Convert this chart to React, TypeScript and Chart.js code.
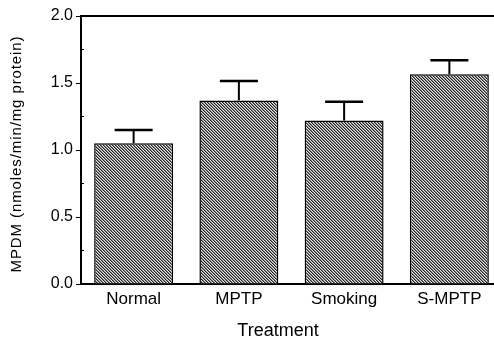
import React, { useEffect, useRef } from "react";
import { Chart, registerables } from "chart.js";

Chart.register(...registerables);

const categories = ["Normal", "MPTP", "Smoking", "S-MPTP"];
const means = [1.05, 1.37, 1.22, 1.565];
const errors = [0.1, 0.145, 0.14, 0.105];
const yTicks = [0, 0.5, 1.0, 1.5, 2.0];
const yTitle = "MPDM (nmoles/min/mg protein)";
const xTitle = "Treatment";

const FAMILY = "'Liberation Sans', Arial, sans-serif";

function makePattern(): CanvasPattern | string {
  const c = document.createElement("canvas");
  c.width = 3;
  c.height = 3;
  const ctx = c.getContext("2d");
  if (!ctx) return "#666";
  const D = "#202020", M = "#858585", L = "#e6e6e6";
  const rows = [
    [D, M, L],
    [L, D, M],
    [M, L, D],
  ];
  rows.forEach((r, y) => r.forEach((col, x) => { ctx.fillStyle = col; ctx.fillRect(x, y, 1, 1); }));
  const p = ctx.createPattern(c, "repeat");
  return p || "#666";
}

const decorPlugin = {
  id: "decor",
  afterDatasetsDraw(chart: any) {
    const { ctx, chartArea, scales } = chart;
    const meta = chart.getDatasetMeta(0);
    const y = scales.y;
    ctx.save();
    ctx.strokeStyle = "#000";
    meta.data.forEach((bar: any, i: number) => {
      const top = y.getPixelForValue(means[i] + errors[i]);
      const x = bar.x;
      ctx.lineWidth = 2;
      ctx.beginPath();
      ctx.moveTo(x, bar.y);
      ctx.lineTo(x, top);
      ctx.stroke();
      ctx.lineWidth = 2.5;
      ctx.beginPath();
      ctx.moveTo(x - 19, top);
      ctx.lineTo(x + 19, top);
      ctx.stroke();
    });
    ctx.lineWidth = 2;
    ctx.beginPath();
    ctx.moveTo(chartArea.left, chartArea.top);
    ctx.lineTo(chartArea.right, chartArea.top);
    ctx.stroke();
    ctx.lineWidth = 1;
    for (let v = 0.25; v < 2; v += 0.5) {
      const py = y.getPixelForValue(v);
      ctx.beginPath();
      ctx.moveTo(chartArea.left, py);
      ctx.lineTo(chartArea.left + 3, py);
      ctx.stroke();
    }
    ctx.restore();
  },
  afterDraw(chart: any) {
    const { ctx, chartArea } = chart;
    ctx.save();
    ctx.fillStyle = "#000";
    ctx.font = "15px " + FAMILY;
    (ctx as any).letterSpacing = "0.9px";
    ctx.translate(17, (chartArea.top + chartArea.bottom) / 2 + 4);
    ctx.rotate(-Math.PI / 2);
    ctx.textAlign = "center";
    ctx.textBaseline = "middle";
    ctx.fillText(yTitle, 0, 0);
    ctx.restore();
    ctx.save();
    ctx.fillStyle = "#000";
    ctx.font = "18px " + FAMILY;
    ctx.textAlign = "center";
    ctx.textBaseline = "middle";
    ctx.fillText(xTitle, 278, 331);
    ctx.restore();
  },
};

export default function App() {
  const ref = useRef<HTMLCanvasElement | null>(null);
  useEffect(() => {
    if (!ref.current) return;
    const pattern = makePattern();
    const chart = new Chart(ref.current, {
      type: "bar",
      data: {
        labels: categories,
        datasets: [
          {
            data: means,
            backgroundColor: pattern as any,
            borderColor: "#000",
            borderWidth: 1.5,
            barPercentage: 0.75,
            categoryPercentage: 1,
          },
        ],
      },
      options: {
        responsive: false,
        animation: false,
        devicePixelRatio: 1,
        layout: { padding: { top: 16, right: 18, left: 0, bottom: 0 } },
        plugins: { legend: { display: false }, tooltip: { enabled: false } },
        scales: {
          x: {
            grid: { display: false, drawTicks: false },
            border: { color: "#000", width: 2 },
            ticks: {
              color: "#000",
              padding: 5,
              font: { size: 17, family: FAMILY },
            },
            afterFit: (s: any) => { s.height = 60; },
          },
          y: {
            min: 0,
            max: 2,
            afterBuildTicks: (s: any) => { s.ticks = yTicks.map((v) => ({ value: v })); },
            grid: { drawOnChartArea: false, drawTicks: true, tickLength: 5, color: "#000", lineWidth: 1 },
            border: { color: "#000", width: 2 },
            ticks: {
              color: "#000",
              padding: 3,
              font: { size: 16, family: FAMILY },
              callback: (v: any) => Number(v).toFixed(1),
            },
            afterFit: (s: any) => { s.width = 81; },
          },
        },
      },
      plugins: [decorPlugin],
    });
    return () => chart.destroy();
  }, []);
  return (
    <div style={{ position: "fixed", left: 0, top: 0, width: 494, height: 344, overflow: "hidden", background: "#fff" }}>
      <canvas ref={ref} width={520} height={344} style={{ display: "block" }} />
    </div>
  );
}
